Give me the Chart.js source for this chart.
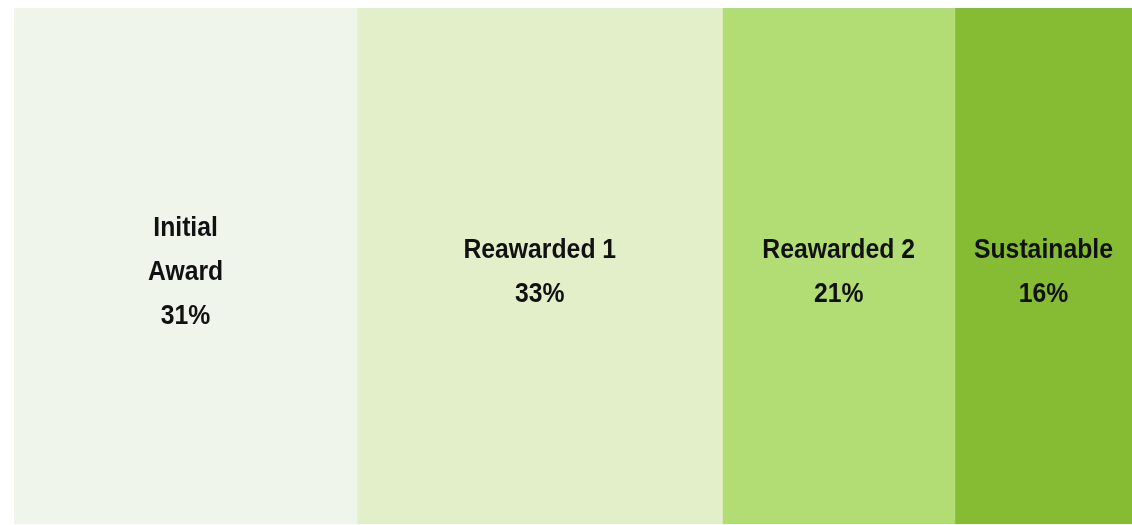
<!DOCTYPE html>
<html>
<head>
<meta charset="utf-8">
<script src="https://cdn.jsdelivr.net/npm/chart.js@4"></script>
<style>
html,body{margin:0;padding:0;background:#fff;}
#wrap{width:1132px;height:525px;}
</style>
</head>
<body>
<div id="wrap"><canvas id="c" width="1132" height="525"></canvas></div>
<script>
const categories = [["Initial","Award"], ["Reawarded 1"], ["Reawarded 2"], ["Sustainable"]];
const values = [31, 33, 21, 16];
const colors = ["#EFF5EA", "#E3EFC9", "#B2DC74", "#85BC33"];

const total = values.reduce((a, b) => a + b, 0);

const labelPlugin = {
  id: 'segLabels',
  afterDatasetsDraw(chart) {
    const ctx = chart.ctx;
    ctx.save();
    ctx.fillStyle = '#111';
    ctx.textAlign = 'center';
    ctx.textBaseline = 'alphabetic';
    ctx.font = 'bold 27.5px "Liberation Sans", Arial, sans-serif';
    const lineH = 44;
    const sx = 0.9;
    chart.data.datasets.forEach((ds, i) => {
      const bar = chart.getDatasetMeta(i).data[0];
      const cx = (bar.x + bar.base) / 2;
      const lines = categories[i].concat([values[i] + '%']);
      const cy = bar.y + 4;
      const start = cy - (lines.length - 1) * lineH / 2;
      lines.forEach((t, k) => {
        ctx.save();
        ctx.translate(cx, start + k * lineH + 9.5);
        ctx.scale(sx, 1);
        ctx.fillText(t, 0, 0);
        ctx.restore();
      });
    });
    ctx.restore();
  }
};

new Chart(document.getElementById('c'), {
  type: 'bar',
  data: {
    labels: [''],
    datasets: values.map((v, i) => ({
      label: categories[i].join(' '),
      data: [v],
      backgroundColor: colors[i],
      borderWidth: 0,
      barPercentage: 1,
      categoryPercentage: 1
    }))
  },
  options: {
    indexAxis: 'y',
    responsive: false,
    animation: false,
    layout: { padding: { left: 14, right: 0, top: 8, bottom: 1 } },
    plugins: { legend: { display: false }, tooltip: { enabled: false } },
    scales: {
      x: { stacked: true, min: 0, max: total, display: false },
      y: { stacked: true, display: false }
    }
  },
  plugins: [labelPlugin]
});
</script>
</body>
</html>
